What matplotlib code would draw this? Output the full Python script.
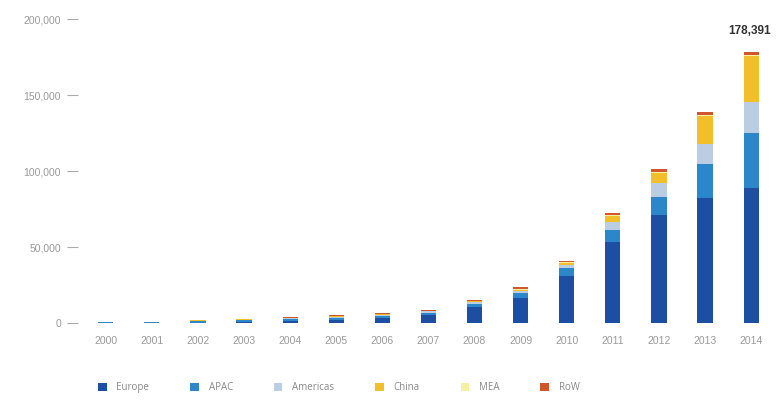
import numpy as np
import matplotlib
matplotlib.use('Agg')
from matplotlib import pyplot as plt

years = ['2000', '2001', '2002', '2003', '2004', '2005', '2006', '2007',
         '2008', '2009', '2010', '2011', '2012', '2013', '2014']
regions = ['Europe', 'APAC', 'Americas', 'China', 'MEA', 'RoW']
europe = [100, 100, 200, 400, 1000, 2200, 3300, 5300, 10500, 16500, 30900, 53300, 71000, 82000, 88800]
apac = [300, 400, 1000, 1400, 1500, 1400, 1500, 1500, 2000, 3200, 5300, 7900, 12000, 22400, 36000]
americas = [100, 100, 400, 500, 600, 600, 600, 800, 1200, 1300, 2000, 5200, 9000, 13200, 20400]
china = [20, 20, 50, 50, 100, 200, 400, 500, 500, 1000, 1500, 4000, 6700, 18400, 30500]
mea = [10, 10, 20, 30, 50, 50, 100, 100, 200, 300, 300, 400, 500, 800, 800]
row = [200, 200, 300, 500, 600, 500, 600, 500, 600, 1200, 1000, 1600, 2000, 2000, 1900]
colors = ['#1c4fa1', '#2b87c9', '#bacde3', '#f2bf2a', '#f6f0a4', '#d2562b']
total_label = '178,391'

series = [europe, apac, americas, china, mea, row]

fig = plt.figure(figsize=(7.76, 4.0), dpi=100)
ax = fig.add_axes([0.1, 0.1925, 0.9, 0.7975])

x = np.arange(len(years))
bottom = np.zeros(len(years))
for name, vals, c in zip(regions, series, colors):
    ax.bar(x, vals, width=0.33, bottom=bottom, color=c, label=name)
    bottom += np.array(vals)

# total label for the last year, kept inside the canvas
ax.text(x[-1] + 0.42, 192500, total_label, ha='right', va='center',
        fontsize=8.5, fontweight='bold', color='#333333',
        family=['Liberation Sans', 'DejaVu Sans'])

ax.set_xlim(-0.61, 14.54)
ax.set_ylim(0, 210000)
ax.set_yticks([0, 50000, 100000, 150000, 200000])
ax.set_yticklabels(['0', '50,000', '100,000', '150,000', '200,000'])
ax.set_xticks(x)
ax.set_xticklabels(years)
for s in ax.spines.values():
    s.set_visible(False)
ax.tick_params(axis='y', length=8, width=0.8, color='#aaaaaa', labelcolor='#999999',
               labelsize=7.5, pad=4)
ax.tick_params(axis='x', length=0, labelcolor='#999999', labelsize=7.5, pad=9)
for lab in ax.get_xticklabels() + ax.get_yticklabels():
    lab.set_family(['Liberation Sans', 'DejaVu Sans'])

leg = fig.legend(loc='lower left', bbox_to_anchor=(0.115, -0.005), ncol=6,
                 frameon=False, handlelength=0.9, handleheight=0.9,
                 columnspacing=4.2, handletextpad=1.0, labelcolor='#888888',
                 prop={'family': 'Open Sans', 'size': 7})

fig.savefig('out.png', dpi=100)
